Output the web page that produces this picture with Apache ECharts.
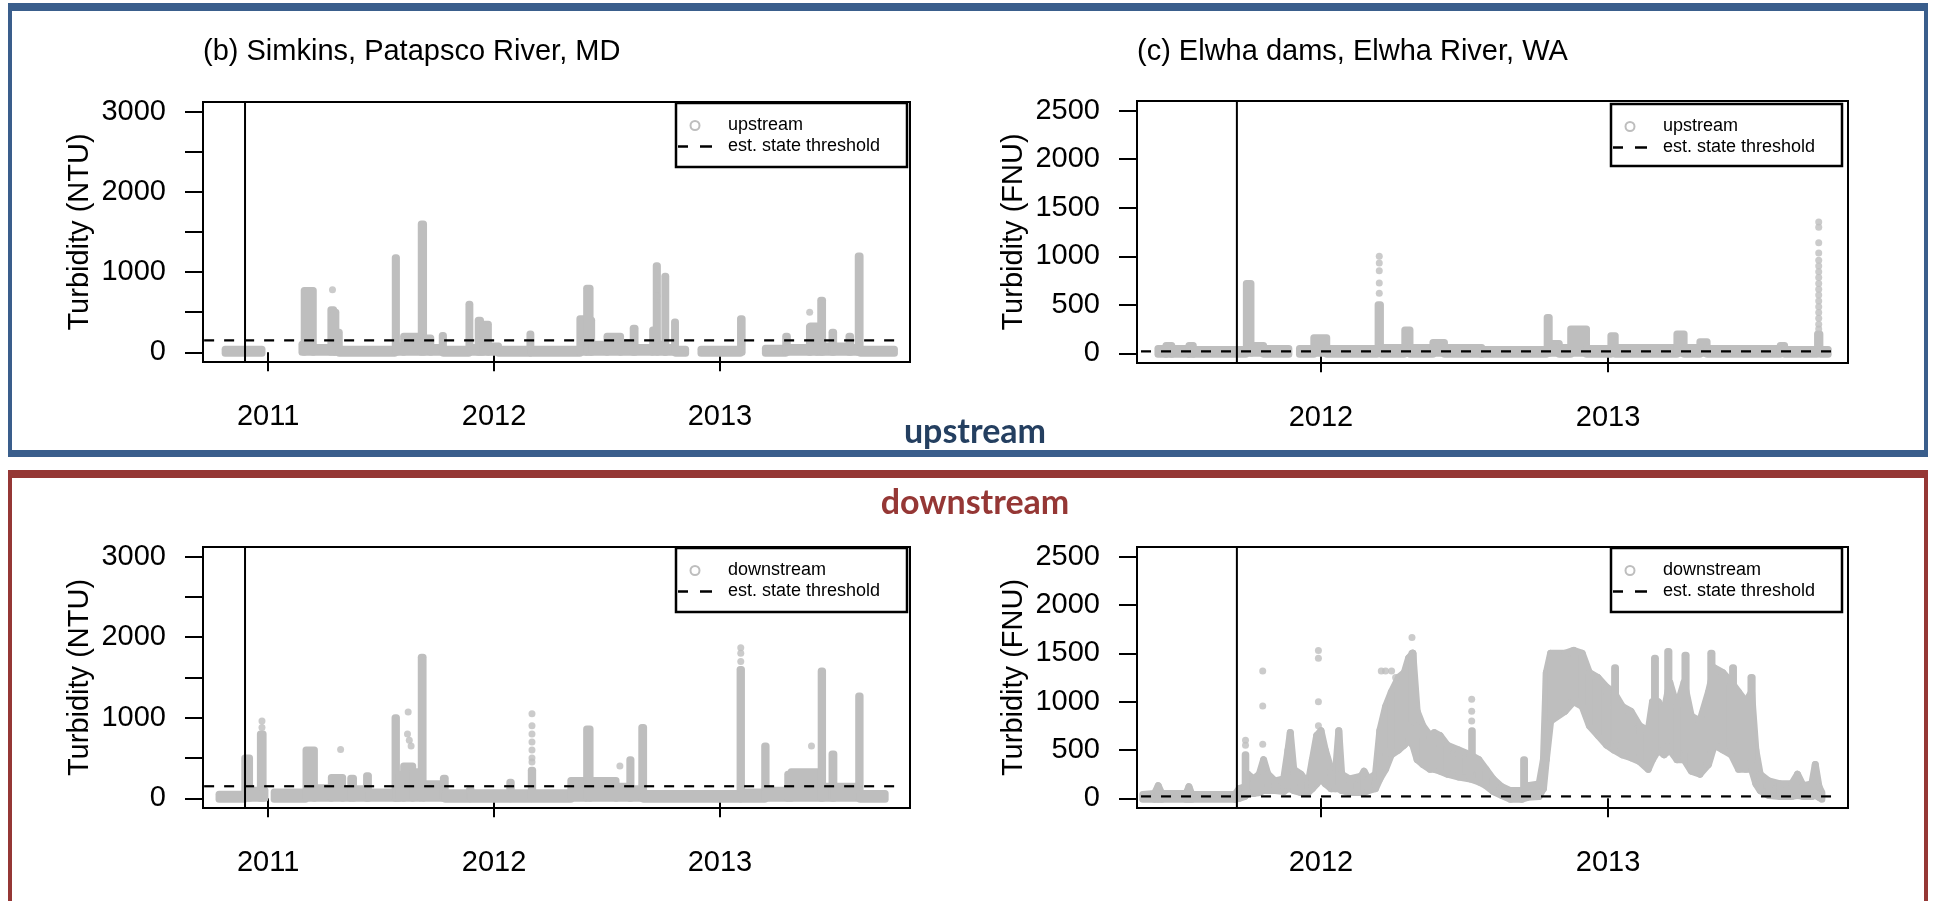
<!DOCTYPE html>
<html><head><meta charset="utf-8">
<script src="https://cdn.jsdelivr.net/npm/echarts@6/dist/echarts.min.js"></script>
<style>html,body{margin:0;padding:0;background:#fff}#c{width:1933px;height:901px}</style>
</head><body><div id="c"></div><script>
// ---------------- data ----------------
const yearTicksB = [2011, 2012, 2013];
const yearTicksC = [2012, 2013];
const ntuTicks = [0, 500, 1000, 1500, 2000, 2500, 3000];
const ntuLabels = [0, 1000, 2000, 3000];
const fnuTicks = [0, 500, 1000, 1500, 2000, 2500];
const thresholdNTU = 150;
const thresholdFNU = 20;
const removalSimkins = 2010.898;
const removalElwha = 2011.707;
const thrSpanB = [2010.717, 2013.779];
const thrSpanC = [2011.373, 2013.780];

// narrow readings as [start year, end year, low, high]
const simkinsUp = [
  [2010.810, 2010.973, -10, 40],
  [2011.150, 2011.160, 0, 100], [2011.160, 2011.200, 0, 770], [2011.200, 2011.275, 0, 60],
  [2011.278, 2011.290, 0, 530], [2011.290, 2011.300, 0, 500], [2011.300, 2011.315, 0, 250],
  [2011.315, 2011.560, -10, 40], [2011.563, 2011.568, 0, 1180], [2011.568, 2011.600, 0, 80],
  [2011.600, 2011.675, 0, 200], [2011.678, 2011.688, 0, 1600], [2011.690, 2011.720, 0, 180],
  [2011.720, 2011.770, 0, 60], [2011.771, 2011.776, 0, 210], [2011.776, 2011.888, -10, 40],
  [2011.889, 2011.893, 0, 600], [2011.894, 2011.930, 0, 60], [2011.930, 2011.940, 0, 400],
  [2011.940, 2011.950, 0, 100], [2011.950, 2011.975, 0, 350], [2011.975, 2012.020, 0, 80],
  [2012.020, 2012.158, -10, 40], [2012.159, 2012.163, 0, 230], [2012.164, 2012.380, -10, 40],
  [2012.380, 2012.410, 0, 420], [2012.410, 2012.425, 0, 800], [2012.425, 2012.432, 0, 400],
  [2012.432, 2012.500, 0, 100], [2012.500, 2012.560, 0, 200], [2012.560, 2012.615, 0, 120],
  [2012.616, 2012.624, 0, 300], [2012.625, 2012.700, 0, 60], [2012.702, 2012.708, 0, 280],
  [2012.718, 2012.723, 0, 1080], [2012.724, 2012.755, 0, 100], [2012.756, 2012.760, 0, 950],
  [2012.761, 2012.798, 0, 60], [2012.799, 2012.803, 0, 380], [2012.804, 2012.848, -10, 40],
  [2012.916, 2013.090, -10, 40], [2013.091, 2013.098, 0, 420],
  [2013.201, 2013.290, -10, 50], [2013.291, 2013.298, 0, 200], [2013.300, 2013.395, 0, 60],
  [2013.396, 2013.400, 0, 320], [2013.400, 2013.430, 0, 330], [2013.430, 2013.445, 0, 100],
  [2013.446, 2013.454, 0, 650], [2013.455, 2013.495, 0, 80], [2013.496, 2013.503, 0, 250],
  [2013.505, 2013.570, 0, 80], [2013.571, 2013.578, 0, 200], [2013.580, 2013.610, 0, 60],
  [2013.612, 2013.620, 0, 1200], [2013.622, 2013.772, -10, 40]
];
const simkinsUpDots = [[2011.285, 780], [2012.721, 700], [2013.397, 500]];

const simkinsDown = [
  [2010.783, 2010.895, -10, 50], [2010.897, 2010.918, 0, 500], [2010.918, 2010.965, 0, 100],
  [2010.966, 2010.978, 0, 800], [2010.978, 2010.986, 0, 100],
  [2011.027, 2011.165, -10, 80], [2011.168, 2011.205, 0, 600], [2011.205, 2011.280, 0, 130],
  [2011.280, 2011.330, 0, 260], [2011.330, 2011.365, 0, 120], [2011.366, 2011.378, 0, 250],
  [2011.380, 2011.435, 0, 120], [2011.436, 2011.444, 0, 280], [2011.445, 2011.560, 0, 80],
  [2011.562, 2011.568, 0, 1000], [2011.568, 2011.580, 0, 200], [2011.580, 2011.600, 0, 300],
  [2011.600, 2011.640, 0, 400], [2011.640, 2011.670, 0, 330],
  [2011.678, 2011.686, 0, 1750], [2011.690, 2011.775, 0, 180], [2011.776, 2011.784, 0, 250],
  [2011.785, 2011.890, -10, 70], [2011.892, 2011.898, 0, 110], [2011.900, 2012.068, -10, 70],
  [2012.070, 2012.076, 0, 200], [2012.078, 2012.160, -10, 70], [2012.165, 2012.171, 0, 350],
  [2012.171, 2012.340, -10, 70], [2012.340, 2012.405, 0, 220], [2012.410, 2012.425, 0, 860],
  [2012.425, 2012.540, 0, 220], [2012.540, 2012.600, 0, 150], [2012.601, 2012.606, 0, 480],
  [2012.606, 2012.650, 0, 120], [2012.654, 2012.662, 0, 880], [2012.662, 2013.088, -10, 60],
  [2013.089, 2013.095, 0, 1600], [2013.095, 2013.198, -10, 80], [2013.198, 2013.204, 0, 650],
  [2013.204, 2013.300, 0, 100], [2013.300, 2013.315, 0, 300], [2013.315, 2013.445, 0, 330],
  [2013.448, 2013.454, 0, 1580], [2013.454, 2013.495, 0, 150], [2013.496, 2013.504, 0, 550],
  [2013.505, 2013.612, 0, 150], [2013.614, 2013.620, 0, 1270], [2013.620, 2013.731, -10, 60]
];
const simkinsDownDots = [
  [2010.973, 960], [2010.973, 880], [2011.321, 607], [2011.620, 1073], [2011.617, 800],
  [2011.633, 650], [2011.625, 720], [2012.168, 1050], [2012.168, 900], [2012.168, 800],
  [2012.168, 700], [2012.168, 600], [2012.168, 500], [2012.168, 450], [2012.557, 400],
  [2013.092, 1870], [2013.092, 1800], [2013.092, 1700], [2013.405, 650]
];

const elwhaUp = [
  [2011.432, 2011.460, -10, 50], [2011.460, 2011.480, -10, 80], [2011.480, 2011.540, -10, 50],
  [2011.540, 2011.555, -10, 80], [2011.555, 2011.738, -10, 40], [2011.740, 2011.756, 0, 720],
  [2011.760, 2011.800, 0, 80], [2011.800, 2011.888, -10, 50], [2011.925, 2011.975, -10, 50],
  [2011.975, 2012.020, 0, 160],
  [2012.020, 2012.195, -10, 50], [2012.199, 2012.207, 0, 500], [2012.210, 2012.290, -10, 60],
  [2012.292, 2012.310, 0, 240], [2012.310, 2012.390, -10, 60], [2012.390, 2012.430, 0, 110],
  [2012.430, 2012.560, -10, 60], [2012.560, 2012.785, -10, 40], [2012.788, 2012.795, 0, 370],
  [2012.795, 2012.830, 0, 100], [2012.830, 2012.870, -10, 60], [2012.870, 2012.925, 0, 250],
  [2012.925, 2013.010, -10, 50], [2013.010, 2013.025, 0, 180], [2013.025, 2013.240, -10, 60],
  [2013.240, 2013.265, 0, 200], [2013.265, 2013.320, -10, 60], [2013.320, 2013.345, 0, 120],
  [2013.345, 2013.600, -10, 50], [2013.600, 2013.615, 0, 80], [2013.615, 2013.728, -10, 40],
  [2013.730, 2013.738, 0, 200], [2013.740, 2013.767, -10, 40]
];
const elwhaUpDots = [
  [2012.203, 620], [2012.203, 724], [2012.203, 850], [2012.203, 931], [2012.203, 1000],
  [2013.734, 1352], [2013.734, 1300], [2013.734, 1138], [2013.734, 1034], [2013.734, 960],
  [2013.734, 900], [2013.734, 840], [2013.734, 780], [2013.734, 720], [2013.734, 660],
  [2013.734, 600], [2013.734, 540], [2013.734, 480], [2013.734, 420], [2013.734, 360],
  [2013.734, 300], [2013.734, 250]
];

// downstream Elwha envelope: [year, low, high]
const elwhaDownEnv = [
  [2011.379, -10, 40], [2011.420, -10, 50], [2011.433, -10, 130], [2011.445, -10, 50],
  [2011.530, -10, 50], [2011.540, -10, 120], [2011.550, -10, 40], [2011.700, -10, 40],
  [2011.715, 0, 100], [2011.735, 20, 120], [2011.745, 50, 250], [2011.765, 50, 200],
  [2011.785, 60, 250], [2011.800, 80, 400], [2011.815, 80, 250], [2011.840, 80, 180],
  [2011.870, 70, 200], [2011.885, 100, 500], [2011.893, 100, 680], [2011.905, 80, 300],
  [2011.930, 60, 250], [2011.955, 60, 150], [2011.970, 100, 400], [2011.985, 150, 650],
  [2012.000, 200, 700], [2012.015, 150, 500], [2012.035, 100, 300], [2012.050, 100, 250],
  [2012.062, 100, 700], [2012.072, 80, 250], [2012.100, 60, 200], [2012.140, 60, 230],
  [2012.150, 60, 280], [2012.165, 80, 200], [2012.190, 100, 250], [2012.205, 200, 700],
  [2012.225, 300, 950], [2012.245, 450, 1100], [2012.270, 500, 1250], [2012.290, 550, 1300],
  [2012.305, 600, 1450], [2012.320, 550, 1500], [2012.335, 400, 900], [2012.355, 350, 750],
  [2012.380, 300, 650], [2012.395, 300, 680], [2012.415, 280, 650], [2012.440, 250, 550],
  [2012.480, 220, 500], [2012.520, 200, 450], [2012.550, 170, 400], [2012.575, 130, 300],
  [2012.600, 70, 200], [2012.630, 30, 120], [2012.660, -10, 80], [2012.700, -10, 80],
  [2012.720, 10, 130], [2012.760, 20, 150], [2012.775, 100, 400], [2012.785, 400, 1300],
  [2012.800, 800, 1500], [2012.850, 900, 1500], [2012.880, 1000, 1530], [2012.910, 950, 1500],
  [2012.935, 750, 1300], [2012.965, 650, 1250], [2012.995, 550, 1150], [2013.020, 500, 1100],
  [2013.050, 450, 950], [2013.080, 420, 900], [2013.110, 380, 750], [2013.140, 300, 700],
  [2013.155, 400, 1000], [2013.175, 500, 1000], [2013.195, 450, 900], [2013.215, 500, 1200],
  [2013.240, 400, 950], [2013.265, 400, 1200], [2013.290, 280, 850], [2013.320, 250, 800],
  [2013.350, 350, 1100], [2013.370, 550, 1350], [2013.400, 500, 1300], [2013.430, 450, 1200],
  [2013.455, 300, 1100], [2013.480, 300, 1000], [2013.500, 300, 1100], [2013.515, 150, 500],
  [2013.530, 80, 250], [2013.560, 30, 180], [2013.600, 20, 150], [2013.640, 20, 150],
  [2013.660, 30, 250], [2013.680, 20, 130], [2013.710, 20, 150], [2013.722, 30, 350],
  [2013.735, 10, 120], [2013.745, -10, 60]
];
const elwhaDown = [
  [2011.736, 2011.738, 100, 450], [2012.317, 2012.320, 800, 1500], [2012.525, 2012.527, 300, 700],
  [2012.706, 2012.709, 20, 400], [2013.023, 2013.026, 600, 1350], [2013.162, 2013.165, 500, 1450],
  [2013.208, 2013.212, 600, 1520], [2013.268, 2013.272, 500, 1480], [2013.358, 2013.362, 500, 1500],
  [2013.434, 2013.437, 600, 1350], [2013.498, 2013.502, 400, 1250]
];
const elwhaDownDots = [
  [2011.737, 600], [2011.737, 550], [2011.797, 1317], [2011.797, 955], [2011.797, 560],
  [2011.991, 1529], [2011.991, 1450], [2011.991, 1000], [2011.991, 750], [2012.210, 1317],
  [2012.225, 1317], [2012.246, 1317], [2012.260, 1250], [2012.317, 1665], [2012.525, 1024],
  [2012.525, 900], [2012.525, 800]
];

// ---------------- layout / style ----------------
const FONT = "'Liberation Sans', Arial, Helvetica, sans-serif";
const GRAY = '#bebebe';
const DASH_ICON = 'path://M0,0H10V2.4H0Z M22,0H34V2.4H22Z';
const panels = [
  {grid: {left: 203, top: 102, width: 707, height: 260}, x: [2010.712, 2013.841], y: [-120, 3120],
   xt: yearTicksB, yt: ntuTicks, yl: ntuLabels, name: 'Turbidity (NTU)', thr: thresholdNTU, thrSpan: thrSpanB,
   rem: removalSimkins, blocks: simkinsUp, env: null, dots: simkinsUpDots, label: 'upstream', leg: [676, 103, 231, 64]},
  {grid: {left: 1137, top: 101, width: 711, height: 262}, x: [2011.359, 2013.836], y: [-100, 2600],
   xt: yearTicksC, yt: fnuTicks, yl: fnuTicks, name: 'Turbidity (FNU)', thr: thresholdFNU, thrSpan: thrSpanC,
   rem: removalElwha, blocks: elwhaUp, env: null, dots: elwhaUpDots, label: 'upstream', leg: [1611, 104, 231, 62]},
  {grid: {left: 203, top: 547, width: 707, height: 261}, x: [2010.712, 2013.841], y: [-120, 3120],
   xt: yearTicksB, yt: ntuTicks, yl: ntuLabels, name: 'Turbidity (NTU)', thr: thresholdNTU, thrSpan: thrSpanB,
   rem: removalSimkins, blocks: simkinsDown, env: null, dots: simkinsDownDots, label: 'downstream', leg: [676, 548, 231, 64]},
  {grid: {left: 1137, top: 547, width: 711, height: 261}, x: [2011.359, 2013.836], y: [-100, 2600],
   xt: yearTicksC, yt: fnuTicks, yl: fnuTicks, name: 'Turbidity (FNU)', thr: thresholdFNU, thrSpan: thrSpanC,
   rem: removalElwha, blocks: elwhaDown, env: elwhaDownEnv, dots: elwhaDownDots, label: 'downstream', leg: [1611, 548, 231, 64]}
];

function renderBlock(params, api) {
  const t0 = api.value(0), t1 = api.value(1), lo = api.value(2), hi = api.value(3);
  const a = api.coord([t0, hi]);
  const b = api.coord([t1, lo]);
  const r = 3.5;
  return {
    type: 'rect',
    shape: {x: a[0] - r, y: a[1] - r, width: Math.max(b[0] - a[0], 0) + 2 * r, height: Math.max(b[1] - a[1], 0) + 2 * r, r: r},
    style: {fill: GRAY}
  };
}
function makeEnvRender(env) {
  return function (params, api) {
    const i = params.dataIndex;
    if (i >= env.length - 1) return null;
    const s = env[i], e = env[i + 1];
    const pts = [api.coord([s[0], s[2]]), api.coord([e[0], e[2]]), api.coord([e[0], e[1]]), api.coord([s[0], s[1]])];
    return {type: 'polygon', shape: {points: pts}, style: {fill: GRAY, stroke: GRAY, lineWidth: 7, lineJoin: 'round'}};
  };
}

const grid = [], xAxis = [], yAxis = [], series = [], legend = [], graphic = [];
panels.forEach((p, i) => {
  grid.push(Object.assign({show: true, borderColor: '#000', borderWidth: 2, backgroundColor: 'transparent'}, p.grid));
  xAxis.push({
    type: 'value', gridIndex: i, min: p.x[0], max: p.x[1],
    axisLine: {show: false}, splitLine: {show: false},
    axisTick: {show: true, customValues: p.xt, length: 19, lineStyle: {color: '#000', width: 2}},
    axisLabel: {customValues: p.xt, fontSize: 29, fontFamily: FONT, color: '#000', margin: 40, lineHeight: 29,
      formatter: v => String(Math.round(v))}
  });
  yAxis.push({
    type: 'value', gridIndex: i, min: p.y[0], max: p.y[1],
    axisLine: {show: false}, splitLine: {show: false},
    axisTick: {show: true, customValues: p.yt, length: 18, lineStyle: {color: '#000', width: 2}},
    axisLabel: {customValues: p.yl, fontSize: 29, fontFamily: FONT, color: '#000', margin: 37,
      formatter: v => String(Math.round(v))},
    name: p.name, nameLocation: 'middle', nameGap: 109,
    nameTextStyle: {fontSize: 29, fontFamily: FONT, color: '#000'}
  });
  if (p.env) {
    series.push({
      type: 'custom', name: p.label, xAxisIndex: i, yAxisIndex: i, data: p.env,
      renderItem: makeEnvRender(p.env), encode: {x: 0, y: [1, 2]}, z: 1, silent: true
    });
  }
  series.push({
    type: 'custom', name: p.label, xAxisIndex: i, yAxisIndex: i, data: p.blocks,
    renderItem: renderBlock, encode: {x: [0, 1], y: [2, 3]}, z: 1, silent: true
  });
  series.push({
    type: 'scatter', name: p.label, xAxisIndex: i, yAxisIndex: i, data: p.dots,
    symbolSize: 7, itemStyle: {color: GRAY}, z: 1, silent: true
  });
  series.push({
    type: 'line', name: 'est. state threshold', xAxisIndex: i, yAxisIndex: i,
    data: [[p.thrSpan[0], p.thr], [p.thrSpan[1], p.thr]], symbol: 'none', showSymbol: false,
    itemStyle: {color: '#000'}, lineStyle: {color: '#000', width: 2.2, type: [10, 10]}, z: 10, silent: true
  });
  series.push({
    type: 'line', name: 'removal', xAxisIndex: i, yAxisIndex: i,
    data: [[p.rem, p.y[0]], [p.rem, p.y[1]]], symbol: 'none', showSymbol: false,
    itemStyle: {color: '#000'}, lineStyle: {color: '#000', width: 2}, z: 10, silent: true
  });
  legend.push({
    orient: 'vertical', left: p.leg[0] + 2, top: p.leg[1] + 12, padding: 0, itemGap: 0,
    itemWidth: 34, itemHeight: 9, selectedMode: false,
    textStyle: {fontSize: 18, fontFamily: FONT, color: '#000', lineHeight: 21, padding: [0, 0, 0, 11]},
    data: [
      {name: p.label, icon: 'circle', itemStyle: {color: '#fff', borderColor: GRAY, borderWidth: 2}},
      {name: 'est. state threshold', icon: DASH_ICON, itemStyle: {color: '#000', borderWidth: 0}}
    ]
  });
  graphic.push({type: 'rect', shape: {x: p.leg[0], y: p.leg[1], width: p.leg[2], height: p.leg[3]},
    style: {fill: 'none', stroke: '#000', lineWidth: 2.5}, z: 10});
});

// frames and headings
const BLUE = '#3a5e8c', RED = '#953735';
function band(x, y, w, h, c) { return {type: 'rect', shape: {x, y, width: w, height: h}, style: {fill: c}, z: 20}; }
graphic.push(band(8, 3, 1920, 8, BLUE), band(8, 450, 1920, 7, BLUE), band(8, 3, 4, 454, BLUE), band(1924, 3, 4, 454, BLUE));
graphic.push(band(8, 470, 1920, 8, RED), band(8, 470, 4, 440, RED), band(1924, 470, 4, 440, RED));
graphic.push({type: 'text', x: 203, y: 52, style: {text: '(b) Simkins, Patapsco River, MD', font: '29px ' + FONT, fill: '#000', align: 'left', verticalAlign: 'middle'}, z: 20});
graphic.push({type: 'text', x: 1137, y: 52, style: {text: '(c) Elwha dams, Elwha River, WA', font: '29px ' + FONT, fill: '#000', align: 'left', verticalAlign: 'middle'}, z: 20});
graphic.push({type: 'text', x: 975, y: 432, style: {text: 'upstream', font: 'bold 34px Lato, sans-serif', fill: '#243f60', align: 'center', verticalAlign: 'middle'}, z: 20});
graphic.push({type: 'text', x: 975, y: 503, style: {text: 'downstream', font: 'bold 34px Lato, sans-serif', fill: RED, align: 'center', verticalAlign: 'middle'}, z: 20});

const chart = echarts.init(document.getElementById('c'), null, {renderer: 'canvas'});
chart.setOption({animation: false, backgroundColor: '#fff', grid, xAxis, yAxis, series, legend, graphic});
</script></body></html>
